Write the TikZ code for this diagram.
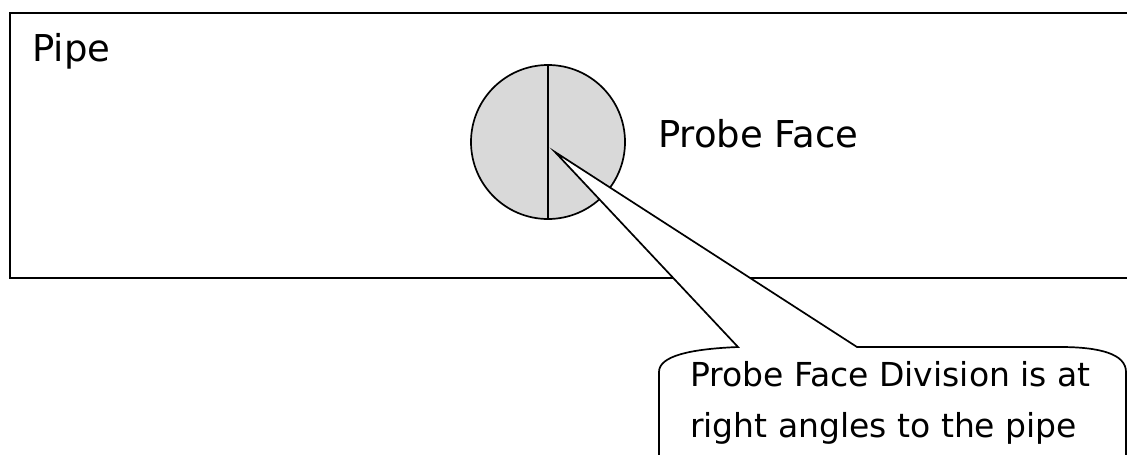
\documentclass[tikz,border=0pt]{standalone}
\usepackage{fontspec}
\setmainfont{DejaVu Sans}
\tikzset{
  outline/.style={line width=1.7pt, black},
  label/.style={inner sep=0pt, anchor=base west, font=\fontsize{37}{49}\selectfont},
  notetext/.style={label, font=\fontsize{33}{49}\selectfont}
}
\begin{document}
\begin{tikzpicture}[x=1pt, y=-1pt]
    \useasboundingbox (0,0) rectangle (1127,455);
    \clip (0,0) rectangle (1127,455);

    % Pipe
    \draw[outline] (1140,13) -- (10,13) -- (10,278) -- (1140,278);
    \node[label] (pipe) at (32,61) {Pipe};

    % Probe face, split in two halves
    \node[outline, draw, fill=gray!30, circle, minimum size=154pt, inner sep=0pt] (face) at (548,142) {};
    \draw[outline] (face.north) -- (face.south);
    \node[label] (facelabel) at (658,147) {Probe Face};

    % Callout
    \coordinate (tip) at (555,152);
    \draw[outline, fill=white] (659,470) -- (659,372)
        .. controls (659,356) and (690,349) .. (738,347) -- (tip) -- (857,347)
        -- (1060,347) .. controls (1100,347) and (1126,354) .. (1126,372) -- (1126,470);
    \node[notetext] (note1) at (690,386) {Probe Face Division is at};
    \node[notetext] (note2) at (690,437) {right angles to the pipe};
\end{tikzpicture}
\end{document}
